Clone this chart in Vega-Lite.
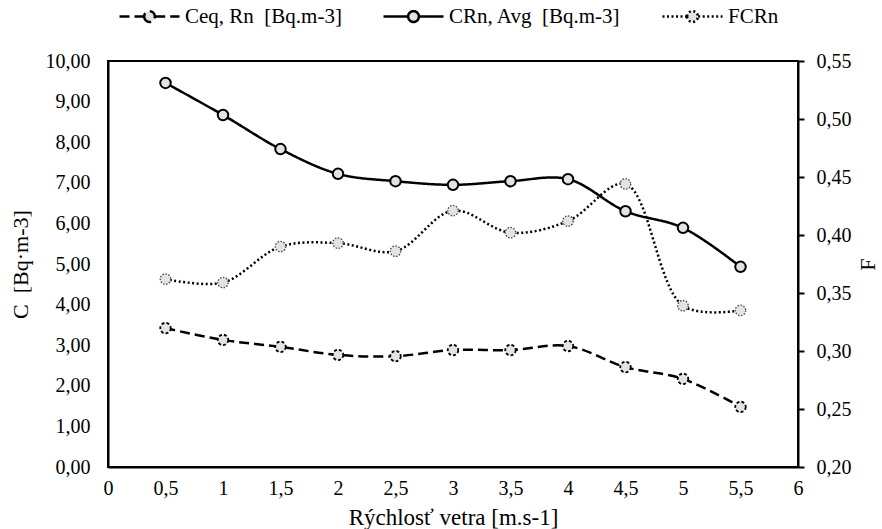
{
  "$schema": "https://vega.github.io/schema/vega-lite/v6.json",
  "width": 690,
  "height": 406,
  "autosize": "none",
  "padding": {"left": 108, "top": 61, "right": 84, "bottom": 62},
  "background": "white",
  "config": {
    "locale": {"number": {"decimal": ",", "thousands": " ", "grouping": [3], "currency": ["", ""]}},
    "font": "Liberation Serif",
    "view": {"stroke": "black", "strokeWidth": 2},
    "axis": {
      "grid": false,
      "domainColor": "black",
      "domainWidth": 2,
      "labelFont": "Liberation Serif",
      "titleFont": "Liberation Serif",
      "labelFontSize": 20,
      "titleFontSize": 22,
      "labelColor": "black",
      "titleColor": "black",
      "titleFontWeight": "normal",
      "tickColor": "black",
      "tickWidth": 2
    }
  },
  "data": {
    "values": [
      {"x": 0.5, "series": "Ceq, Rn  [Bq.m-3]", "v": 3.42},
      {"x": 1.0, "series": "Ceq, Rn  [Bq.m-3]", "v": 3.13},
      {"x": 1.5, "series": "Ceq, Rn  [Bq.m-3]", "v": 2.96},
      {"x": 2.0, "series": "Ceq, Rn  [Bq.m-3]", "v": 2.76},
      {"x": 2.5, "series": "Ceq, Rn  [Bq.m-3]", "v": 2.73},
      {"x": 3.0, "series": "Ceq, Rn  [Bq.m-3]", "v": 2.88},
      {"x": 3.5, "series": "Ceq, Rn  [Bq.m-3]", "v": 2.88},
      {"x": 4.0, "series": "Ceq, Rn  [Bq.m-3]", "v": 2.98},
      {"x": 4.5, "series": "Ceq, Rn  [Bq.m-3]", "v": 2.46},
      {"x": 5.0, "series": "Ceq, Rn  [Bq.m-3]", "v": 2.17},
      {"x": 5.5, "series": "Ceq, Rn  [Bq.m-3]", "v": 1.48},
      {"x": 0.5, "series": "CRn, Avg  [Bq.m-3]", "v": 9.46},
      {"x": 1.0, "series": "CRn, Avg  [Bq.m-3]", "v": 8.67},
      {"x": 1.5, "series": "CRn, Avg  [Bq.m-3]", "v": 7.83},
      {"x": 2.0, "series": "CRn, Avg  [Bq.m-3]", "v": 7.22},
      {"x": 2.5, "series": "CRn, Avg  [Bq.m-3]", "v": 7.04},
      {"x": 3.0, "series": "CRn, Avg  [Bq.m-3]", "v": 6.95},
      {"x": 3.5, "series": "CRn, Avg  [Bq.m-3]", "v": 7.04},
      {"x": 4.0, "series": "CRn, Avg  [Bq.m-3]", "v": 7.09},
      {"x": 4.5, "series": "CRn, Avg  [Bq.m-3]", "v": 6.30},
      {"x": 5.0, "series": "CRn, Avg  [Bq.m-3]", "v": 5.89},
      {"x": 5.5, "series": "CRn, Avg  [Bq.m-3]", "v": 4.93},
      {"x": 0.5, "series": "FCRn", "v": 0.362},
      {"x": 1.0, "series": "FCRn", "v": 0.359},
      {"x": 1.5, "series": "FCRn", "v": 0.390},
      {"x": 2.0, "series": "FCRn", "v": 0.393},
      {"x": 2.5, "series": "FCRn", "v": 0.386},
      {"x": 3.0, "series": "FCRn", "v": 0.421},
      {"x": 3.5, "series": "FCRn", "v": 0.402},
      {"x": 4.0, "series": "FCRn", "v": 0.412},
      {"x": 4.5, "series": "FCRn", "v": 0.444},
      {"x": 5.0, "series": "FCRn", "v": 0.339},
      {"x": 5.5, "series": "FCRn", "v": 0.335}
    ]
  },
  "encoding": {
    "x": {
      "field": "x",
      "type": "quantitative",
      "scale": {"domain": [0, 6], "nice": false, "zero": false},
      "axis": {
        "title": "Rýchlosť vetra [m.s-1]",
        "titleFontSize": 23,
        "values": [0, 0.5, 1, 1.5, 2, 2.5, 3, 3.5, 4, 4.5, 5, 5.5, 6],
        "format": "~g",
        "ticks": false,
        "labelPadding": 11,
        "titlePadding": 8,
        "labelFlush": false
      }
    }
  },
  "layer": [
    {
      "transform": [{"filter": "datum.series != 'FCRn'"}],
      "encoding": {
        "y": {
          "field": "v",
          "type": "quantitative",
          "scale": {"domain": [0, 10], "nice": false},
          "axis": {
            "title": "C \u00a0[Bq·m-3]",
            "orient": "left",
            "values": [0, 1, 2, 3, 4, 5, 6, 7, 8, 9, 10],
            "format": ".2f",
            "ticks": false,
            "labelPadding": 18,
            "titlePadding": 13
          }
        }
      },
      "layer": [
        {
          "mark": {"type": "line", "interpolate": "catmull-rom", "color": "black", "strokeWidth": 2.5},
          "encoding": {
            "strokeDash": {
              "field": "series",
              "type": "nominal",
              "scale": {
                "domain": ["Ceq, Rn  [Bq.m-3]", "CRn, Avg  [Bq.m-3]", "FCRn"],
                "range": [[10, 5], [1, 0], [2, 2.5]]
              },
              "legend": {
                "title": null,
                "orient": "none",
                "direction": "horizontal",
                "legendX": 10,
                "legendY": -76,
                "labelFont": "Liberation Serif",
                "labelFontSize": 21,
                "labelLimit": 0,
                "labelColor": "black",
                "columnPadding": 36,
                "labelOffset": 4,
                "labelExpr": "replace(datum.label, '  ', ' \u00a0')",
                "symbolType": "M-1,0H-0.19M0.19,0H1M-0.18,0A0.18,0.18 0 1,0 0.18,0A0.18,0.18 0 1,0 -0.18,0",
                "symbolSize": 3600,
                "symbolStrokeWidth": 2.5,
                "symbolStrokeColor": "black",
                "symbolFillColor": "#e3e3e3",
                "encode": {"symbols": {"update": {"fill": {"value": "#e3e3e3"}, "stroke": {"value": "black"}}}}
              }
            }
          }
        },
        {
          "transform": [{"filter": "datum.series == 'Ceq, Rn  [Bq.m-3]'"}],
          "mark": {"type": "point", "shape": "circle", "filled": true, "fill": "#e3e3e3", "stroke": "black", "strokeWidth": 1.8, "strokeDash": [3, 2], "size": 110, "opacity": 1}
        },
        {
          "transform": [{"filter": "datum.series == 'CRn, Avg  [Bq.m-3]'"}],
          "mark": {"type": "point", "shape": "circle", "filled": true, "fill": "#e3e3e3", "stroke": "black", "strokeWidth": 2, "size": 110, "opacity": 1}
        }
      ]
    },
    {
      "transform": [{"filter": "datum.series == 'FCRn'"}],
      "encoding": {
        "y": {
          "field": "v",
          "type": "quantitative",
          "scale": {"domain": [0.2, 0.55], "nice": false, "zero": false},
          "axis": {
            "title": "F",
            "orient": "right",
            "values": [0.2, 0.25, 0.3, 0.35, 0.4, 0.45, 0.5, 0.55],
            "format": ".2f",
            "ticks": true,
            "tickSize": 6,
            "labelPadding": 12,
            "titlePadding": 28,
            "titleAngle": 270
          }
        }
      },
      "layer": [
        {
          "mark": {"type": "line", "interpolate": "catmull-rom", "color": "black", "strokeWidth": 2.5},
          "encoding": {
            "strokeDash": {"field": "series", "type": "nominal"}
          }
        },
        {
          "mark": {"type": "point", "shape": "circle", "filled": true, "fill": "#e3e3e3", "stroke": "#444444", "strokeWidth": 1.3, "strokeDash": [1.5, 1.5], "size": 110, "opacity": 1}
        }
      ]
    }
  ],
  "resolve": {"scale": {"y": "independent", "strokeDash": "shared"}}
}
